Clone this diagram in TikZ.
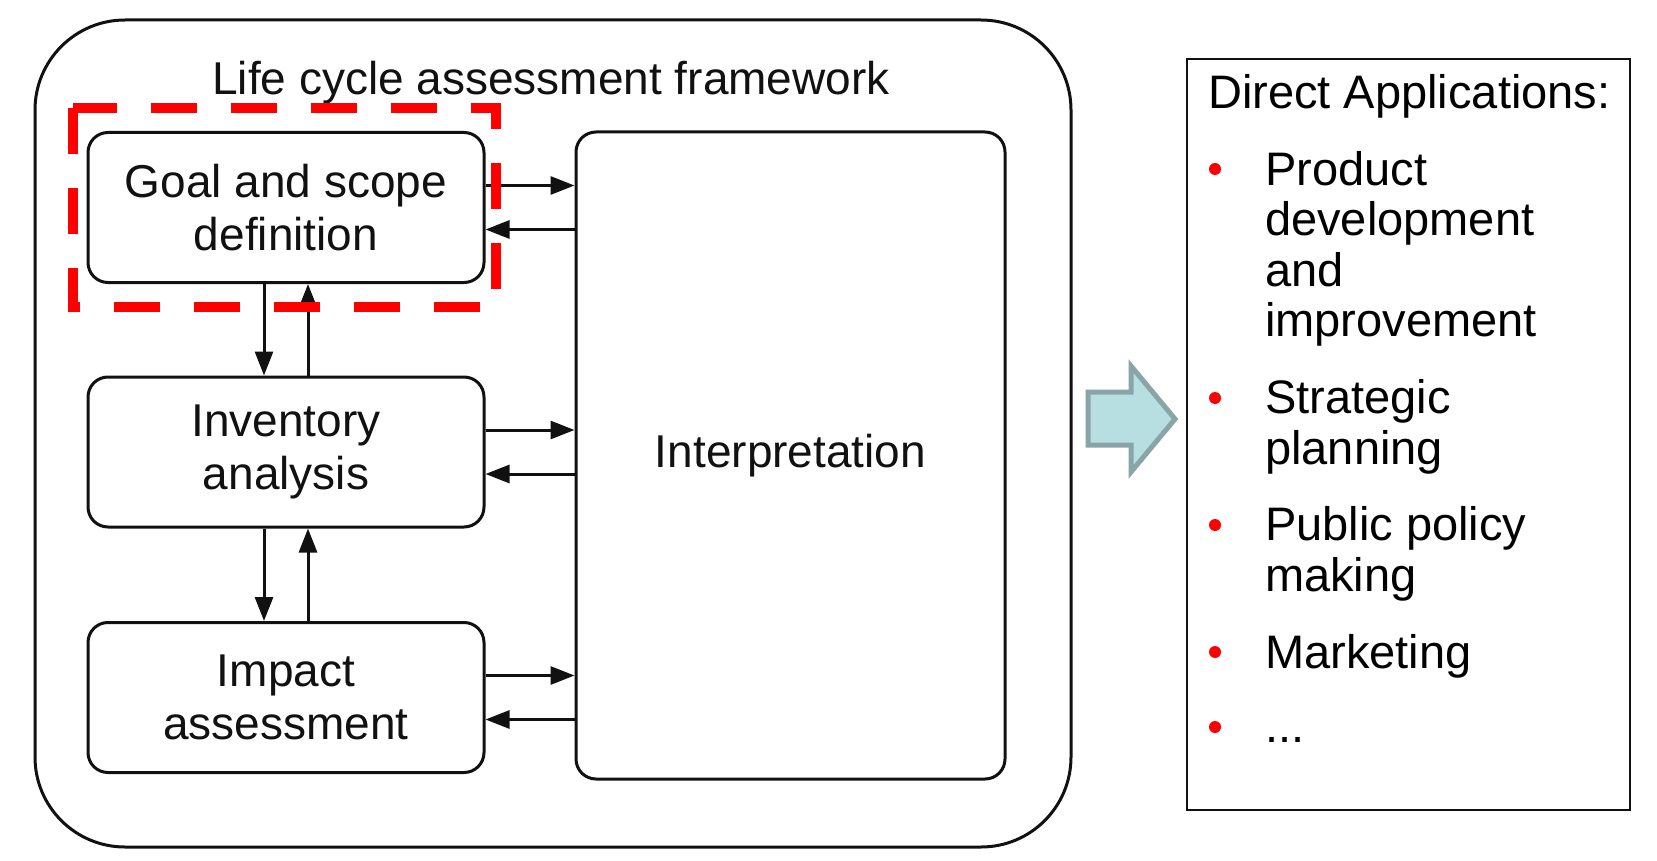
\documentclass[tikz,border=0pt]{standalone}
\usepackage{fontspec}
\setmainfont{Liberation Sans}
\usetikzlibrary{arrows.meta}
\definecolor{ink}{RGB}{17,17,17}
\definecolor{arrowfill}{RGB}{183,222,225}
\definecolor{arrowedge}{RGB}{138,165,168}

\tikzset{
  stagebox/.style={draw=ink, line width=3pt, rounded corners=20pt, minimum width=396pt, minimum height=150pt, align=center, text=ink, font=\fontsize{46}{53}\selectfont},
  flow/.style={draw=ink, line width=3pt, -{Triangle[length=24pt,width=18pt]}},
  item/.style={anchor=base west, align=left, inner sep=0pt, font=\fontsize{47}{50.5}\selectfont},
}

\begin{document}
\begin{tikzpicture}[x=1pt,y=-1pt]
\useasboundingbox (0,0) rectangle (1657,861);

% framework
\node[draw=ink, line width=3pt, rounded corners=90pt, minimum width=1036pt, minimum height=827pt] (frame) at (553,433.5) {};
\node[anchor=base, text=ink, font=\fontsize{46}{52}\selectfont] (title) at (551,95) {Life cycle assessment framework};

\node[stagebox] (goal) at (286,207.5) {Goal and scope\\definition};
\node[stagebox] (inv) at (286,452) {Inventory\\analysis};
\node[stagebox] (imp) at (286,697.5) {Impact\\assessment};
\node[stagebox, minimum width=429pt, minimum height=647pt] (interp) at (790.5,455.5) {Interpretation};

\draw[flow] ([xshift=-22pt]goal.south) -- ([xshift=-22pt]inv.north);
\draw[flow] ([xshift=22pt]inv.north) -- ([xshift=22pt]goal.south);
\draw[flow] ([xshift=-22pt]inv.south) -- ([xshift=-22pt]imp.north);
\draw[flow] ([xshift=22pt]imp.north) -- ([xshift=22pt]inv.south);

\draw[flow] ([yshift=22pt]goal.east) -- ([yshift=22pt]goal.east -| interp.west);
\draw[flow] ([yshift=-22pt]goal.east -| interp.west) -- ([yshift=-22pt]goal.east);
\draw[flow] ([yshift=22pt]inv.east) -- ([yshift=22pt]inv.east -| interp.west);
\draw[flow] ([yshift=-22pt]inv.east -| interp.west) -- ([yshift=-22pt]inv.east);
\draw[flow] ([yshift=22pt]imp.east) -- ([yshift=22pt]imp.east -| interp.west);
\draw[flow] ([yshift=-22pt]imp.east -| interp.west) -- ([yshift=-22pt]imp.east);

% highlight
\draw[red, line width=10pt, dash pattern=on 46pt off 34pt] (73,108) -- (73,307) -- (496,307) -- (496,108) -- cycle;

% block arrow
\draw[arrowedge, fill=arrowfill, line width=5pt] (1088,392) -- (1131,392) -- (1131,366) -- (1175,419) -- (1131,472) -- (1131,445) -- (1088,445) -- cycle;

% applications
\node[draw=ink, line width=2pt, minimum width=443pt, minimum height=751pt] (apps) at (1408.5,434.5) {};
\node[anchor=base west, inner sep=0pt, font=\fontsize{47}{50.5}\selectfont] (head) at (1208,109) {Direct Applications:};

\fill[red] (1215,169) circle (6pt);
\fill[red] (1215,398) circle (6pt);
\fill[red] (1215,525) circle (6pt);
\fill[red] (1215,652) circle (6pt);
\fill[red] (1215,727) circle (6pt);

% base = last line
\node[item] (prod) at (1265,336.5) {Product\\development\\and\\improvement};
\node[item] (strat) at (1265,464) {Strategic\\planning};
\node[item] (policy) at (1265,591) {Public policy\\making};
\node[item] (mkt) at (1265,668) {Marketing};
\node[item] (more) at (1265,742) {...};
\end{tikzpicture}
\end{document}
